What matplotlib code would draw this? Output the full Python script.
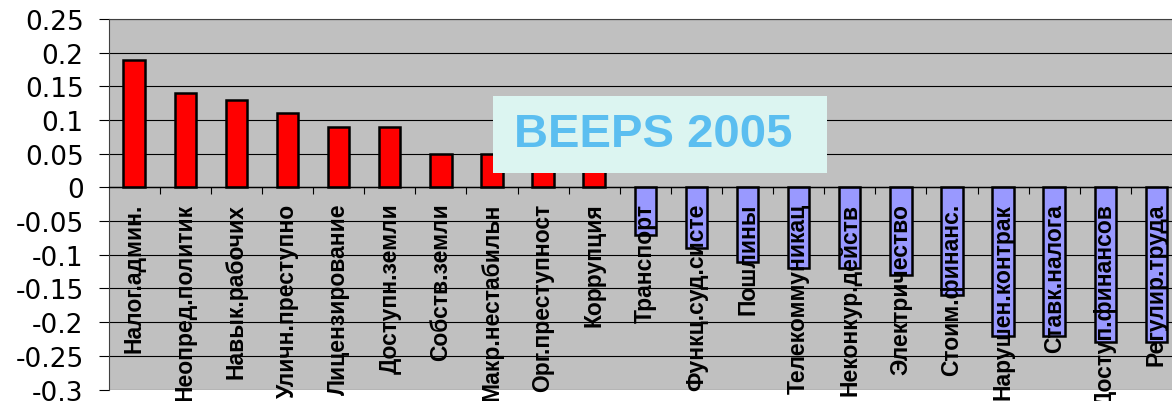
import numpy as np
import matplotlib
matplotlib.use('Agg')
import matplotlib.pyplot as plt
from matplotlib.patches import Rectangle

plt.rcParams['font.family'] = ['Liberation Sans', 'DejaVu Sans']

categories = ['Налог.админ.', 'Неопред.политик', 'Навык.рабочих', 'Уличн.преступно',
              'Лицензирование', 'Доступн.земли', 'Собств.земли', 'Макр.нестабильн',
              'Орг.преступност', 'Коррупция', 'Транспорт', 'Функц.суд.систе',
              'Пошлины', 'Телекоммуникац', 'Неконкур.действ', 'Электричество',
              'Стоим.финанс.', 'Нарушен.контрак', 'Ставк.налога', 'Доступ.финансов',
              'Регулир.труда']
values = [0.19, 0.14, 0.13, 0.11, 0.09, 0.09, 0.05, 0.05, 0.04, 0.03,
          -0.07, -0.09, -0.11, -0.12, -0.12, -0.13, -0.16, -0.22, -0.22, -0.23, -0.23]
yticks = [0.25, 0.2, 0.15, 0.1, 0.05, 0, -0.05, -0.1, -0.15, -0.2, -0.25, -0.3]
ytick_labels = ['0.25', '0.2', '0.15', '0.1', '0.05', '0', '-0.05', '-0.1',
                '-0.15', '-0.2', '-0.25', '-0.3']

fig = plt.figure(figsize=(11.72, 4.02), dpi=100)
ax = fig.add_axes([0.0927, 0.0286, 0.9158, 0.9214])
ax.set_facecolor('#C0C0C0')

x = np.arange(len(categories))
colors = ['#FF0000' if v > 0 else '#9999FF' for v in values]
ax.bar(x, values, width=0.42, color=colors, edgecolor='black', linewidth=1.8, zorder=2)

ax.set_xlim(-0.5, len(categories) - 0.5)
ax.set_ylim(-0.3, 0.25)
ax.set_yticks(yticks)
ax.set_yticklabels(ytick_labels, family='DejaVu Sans', fontsize=19)
ax.tick_params(axis='y', length=7, width=0.8, color='black', pad=11)
ax.set_axisbelow(True)
ax.yaxis.grid(True, color='black', linewidth=0.8)

# category axis crosses at zero, separators between categories
ax.spines['bottom'].set_position(('data', 0))
ax.spines['bottom'].set_linewidth(1.0)
ax.spines['right'].set_visible(False)
ax.spines['left'].set_color('#404040')
ax.spines['top'].set_color('#404040')
ax.set_xticks(x[:-1] + 0.5)
ax.set_xticklabels([])
ax.tick_params(axis='x', length=5, width=0.8, direction='out', color='black')

for i, lab in enumerate(categories):
    ax.annotate(lab, xy=(i, 0), xytext=(0, -11), textcoords='offset points',
                rotation=90, ha='center', va='top', fontsize=16.5, fontweight='bold',
                color='black', zorder=3, annotation_clip=False)

ax.add_patch(Rectangle((7.02, 0.021), 6.53, 0.1145, facecolor='#DCF5F1',
                       edgecolor='none', zorder=4))
ax.text(10.15, 0.080, 'BEEPS 2005', ha='center', va='center', fontsize=34,
        fontweight='bold', color='#5BBEF0', zorder=5)

fig.savefig('out.png', dpi=100)
